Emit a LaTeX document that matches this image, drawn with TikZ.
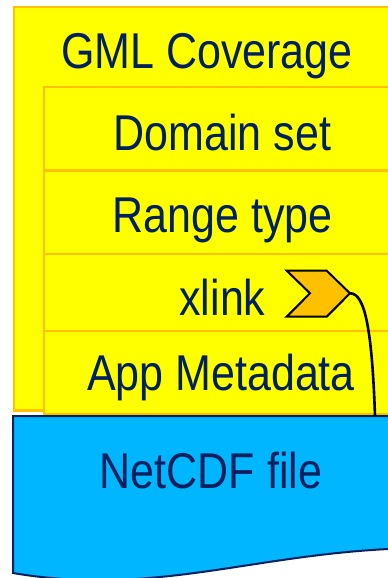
\documentclass[tikz,border=0pt]{standalone}
\usepackage{fontspec}
\setmainfont{Liberation Sans}
\usepackage{graphicx}
\definecolor{boxyellow}{HTML}{FFFF00}
\definecolor{boxorange}{HTML}{FFC000}
\definecolor{navytext}{HTML}{002060}
\definecolor{fileblue}{HTML}{00B6FF}
\newcommand{\bigtxt}[1]{\scalebox{1}[1.17]{\fontsize{43}{48}\selectfont #1}}
\tikzset{
  yrow/.style={draw=boxorange, line width=2.6pt, fill=boxyellow},
  lbl/.style={anchor=base, text=navytext, inner sep=0pt},
  chev/.style={draw=black, line width=2pt, fill=boxorange, line join=miter},
  filebox/.style={draw=navytext, line width=2pt, fill=fileblue},
  link/.style={draw=black, line width=2.6pt}
}
\begin{document}
\begin{tikzpicture}[x=1pt,y=-1pt]
\useasboundingbox (0,0) rectangle (388,578);
\clip (0,0) rectangle (388,578);
% outer coverage box
\draw[yrow] (14,7) rectangle (420,410.5);
\node[lbl] (gml) at (207,68) {\bigtxt{GML Coverage}};
% inner rows
\draw[yrow] (44,87) rectangle (420,170.5);
\draw[yrow] (44,170.5) rectangle (420,254);
\draw[yrow] (44,254) rectangle (420,331);
\draw[yrow] (44,331) rectangle (420,414);
\node[lbl] (domain) at (222.5,150) {\bigtxt{Domain set}};
\node[lbl] (range) at (222.5,232) {\bigtxt{Range type}};
\node[lbl] (xlink) at (222.5,315) {\bigtxt{xlink}};
\node[lbl] (meta) at (221,390) {\bigtxt{App Metadata}};
% netcdf file (document shape)
\draw[filebox] (13,416) -- (420,416) -- (420,548)
  .. controls (260,550) and (160,598) .. (13,573) -- cycle;
\node[lbl] (netcdf) at (211,488) {\bigtxt{NetCDF file}};
\coordinate (fileattach) at (375,416);
% chevron
\draw[chev] (286.7,270.7) -- (326.7,270.7) -- (350,293.3) -- (326.7,316.7)
  -- (286.7,316.7) -- (310,293.3) -- cycle;
\coordinate (tip) at (350,293.3);
\draw[link] (tip) .. controls (365,293) and (372,330) .. (fileattach);
\end{tikzpicture}
\end{document}
